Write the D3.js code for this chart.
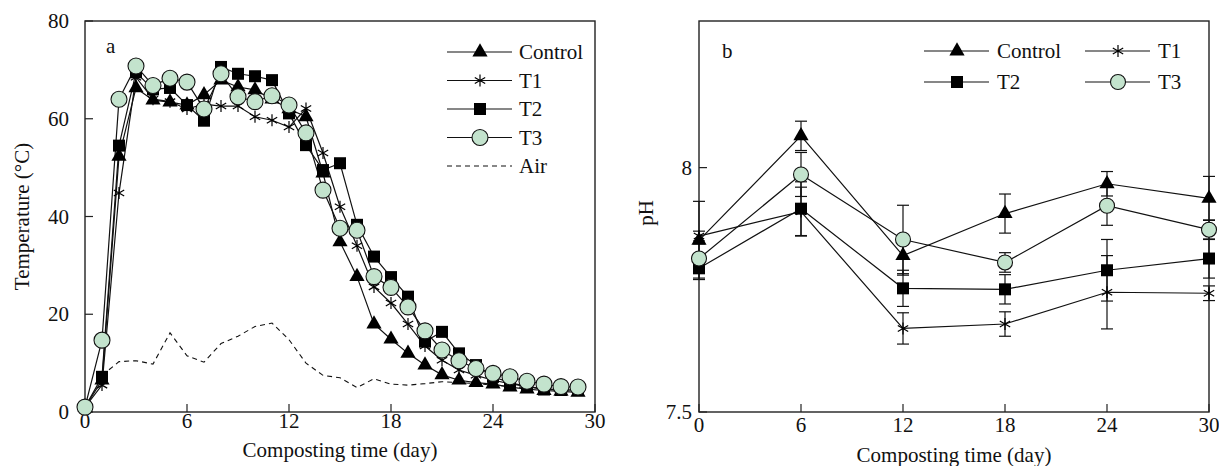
<!DOCTYPE html>
<html>
<head>
<meta charset="utf-8">
<script src="https://cdn.jsdelivr.net/npm/d3@7"></script>
<style>
  body { margin: 0; background: #fff; }
  svg text { font-family: "Liberation Serif", "Times New Roman", serif; fill: #111; }
</style>
</head>
<body>
<div id="chart"></div>
<script>
// panel a: temperature
const daysA = [0,1,2,3,4,5,6,7,8,9,10,11,12,13,14,15,16,17,18,19,20,21,22,23,24,25,26,27,28,29];
const tempControl = [1,6.5,52.3,66.3,63.8,63.4,62.8,64.9,67.9,66.5,65.9,64,62,60.4,48.9,34.8,27.7,18,14.9,12,9.6,7.6,6.5,6,5.7,5.1,4.7,4.4,4.2,4];
const tempT1 = [1,5.5,44.8,68.5,64,63.5,62,63,62.6,62.6,60.4,59.7,58.3,62.1,53,42,34,25.6,22.3,18,13.5,10.6,8.6,7.5,6.5,5.8,5.2,4.8,4.5,4.5];
const tempT2 = [1,7.2,54.5,69.5,66,66.3,62.8,59.6,70.6,69.2,68.7,67.9,61.1,54.6,49.5,50.9,38.3,31.8,27.6,23.6,14.4,16.4,12,9.6,7.2,6,5.2,4.6,4.5,4.5];
const tempT3 = [1,14.7,64,70.8,66.8,68.3,67.5,62,69.2,64.5,63.5,64.7,62.8,57.1,45.4,37.6,37.2,27.7,25.5,21.5,16.6,12.7,10.5,8.9,7.9,7.2,6.3,5.7,5.2,5.1];
const airDays = [1,2,3,4,5,6,7,8,9,10,11,12,13,14,15,16,17,18,19,20,21,22,23,24,25,26,27,28,29];
const tempAir = [7.5,10.3,10.5,9.8,16.2,11.5,10.2,14,15.5,17.5,18.2,14.8,10,7.5,7,5,6.8,5.7,5.5,5.8,6.2,6,5.8,5.5,5.2,5,4.8,4.6,4.5];

// panel b: pH
const daysB = [0,6,12,18,24,30];
const phControl = [7.851,8.065,7.82,7.906,7.967,7.937];
const phControlErr = [0.08,0.03,0.04,0.04,0.025,0.045];
const phT1 = [7.86,7.91,7.671,7.68,7.745,7.743];
const phT1Err = [0.01,0.05,0.032,0.025,0.075,0.015];
const phT2 = [7.794,7.916,7.753,7.751,7.79,7.814];
const phT2Err = [0.02,0.055,0.037,0.03,0.063,0.04];
const phT3 = [7.814,7.986,7.853,7.806,7.922,7.873];
const phT3Err = [0.03,0.045,0.07,0.02,0.04,0.02];

const xTicks = [0,6,12,18,24,30];
const tempTicks = [0,20,40,60,80];
const phTicks = [7.5,8];

const W = 1219, H = 466;
const green = "#c3e3cd";
const fs = "21px";

const svg = d3.select("#chart").append("svg")
  .attr("width", W).attr("height", H)
  .attr("font-family", "Liberation Serif, Times New Roman, serif");

// marker drawing
function marker(g, type, x, y, r) {
  if (type == "tri") {
    g.append("path").attr("d", d3.symbol(d3.symbolTriangle, 100)())
      .attr("transform", `translate(${x},${y})`).attr("fill", "#000");
  } else if (type == "sq") {
    g.append("path").attr("d", d3.symbol(d3.symbolSquare, 144)())
      .attr("transform", `translate(${x},${y})`).attr("fill", "#000");
  } else if (type == "circ") {
    g.append("circle").attr("cx", x).attr("cy", y).attr("r", r || 8)
      .attr("fill", green).attr("stroke", "#111").attr("stroke-width", 1.1);
  } else if (type == "star") {
    const p = d3.path(), a = 6, u = a * Math.cos(Math.PI / 6), t = a / 2;
    p.moveTo(0, -a); p.lineTo(0, a);
    p.moveTo(-u, -t); p.lineTo(u, t);
    p.moveTo(-u, t); p.lineTo(u, -t);
    g.append("path").attr("d", p.toString())
      .attr("transform", `translate(${x},${y})`)
      .attr("stroke", "#000").attr("stroke-width", 1.2).attr("fill", "none");
  }
}

function frame(x, y, xTitle, yTickVals, labelGap, tickY, titleY) {
  const g = svg.append("g");
  const [x0, x1] = x.range(), [y0, y1] = y.range();
  g.append("rect").attr("x", x0).attr("y", y1).attr("width", x1 - x0).attr("height", y0 - y1)
    .attr("fill", "none").attr("stroke", "#222").attr("stroke-width", 1.4);
  // x ticks inward
  g.selectAll(".xt").data(xTicks).join("line")
    .attr("x1", d => x(d)).attr("x2", d => x(d))
    .attr("y1", y0).attr("y2", y0 - 8)
    .attr("stroke", "#222").attr("stroke-width", 1.2);
  g.selectAll(".xl").data(xTicks).join("text")
    .attr("x", d => x(d)).attr("y", tickY)
    .attr("text-anchor", "middle").style("font-size", fs)
    .text(d => d);
  // y ticks inward
  g.selectAll(".yt").data(yTickVals).join("line")
    .attr("x1", x0).attr("x2", x0 + 8)
    .attr("y1", d => y(d)).attr("y2", d => y(d))
    .attr("stroke", "#222").attr("stroke-width", 1.2);
  g.selectAll(".yl").data(yTickVals).join("text")
    .attr("x", x0 - labelGap).attr("y", d => y(d) + 7)
    .attr("text-anchor", "end").style("font-size", fs)
    .text(d => d);
  g.append("text").attr("x", (x0 + x1) / 2).attr("y", titleY)
    .attr("text-anchor", "middle").style("font-size", fs).text(xTitle);
  return g;
}

// ---------------- panel a ----------------
const xa = d3.scaleLinear().domain([0, 30]).range([85, 595]);
const ya = d3.scaleLinear().domain([0, 80]).range([412, 21]);
frame(xa, ya, "Composting time (day)", tempTicks, 16, 428, 457);

svg.append("text")
  .attr("transform", `translate(29,${(412 + 21) / 2}) rotate(-90)`)
  .attr("text-anchor", "middle").style("font-size", fs)
  .text("Temperature (°C)");
svg.append("text").attr("x", 106).attr("y", 53).style("font-size", fs).text("a");

const lineA = d3.line().x(d => xa(d[0])).y(d => ya(d[1]));
const ga = svg.append("g");
ga.append("path").datum(airDays.map((d, i) => [d, tempAir[i]]))
  .attr("d", lineA).attr("fill", "none").attr("stroke", "#111")
  .attr("stroke-width", 1.1).attr("stroke-dasharray", "5,4");

const seriesA = [
  {name: "Control", vals: tempControl, m: "tri"},
  {name: "T1", vals: tempT1, m: "star"},
  {name: "T2", vals: tempT2, m: "sq"},
  {name: "T3", vals: tempT3, m: "circ"}
];
seriesA.forEach(function(s) {
  ga.append("path").datum(daysA.map((d, i) => [d, s.vals[i]]))
    .attr("d", lineA).attr("fill", "none").attr("stroke", "#111").attr("stroke-width", 1.2);
});
seriesA.forEach(function(s) {
  daysA.forEach((d, i) => marker(ga, s.m, xa(d), ya(s.vals[i]), 8));
});

// legend a
const legA = svg.append("g");
seriesA.concat([{name: "Air", m: "dash"}]).forEach(function(s, i) {
  const yy = 52 + i * 28.5;
  legA.append("line").attr("x1", 447).attr("x2", 512).attr("y1", yy).attr("y2", yy)
    .attr("stroke", "#111").attr("stroke-width", 1.2)
    .attr("stroke-dasharray", s.m == "dash" ? "5,4" : null);
  if (s.m != "dash") marker(legA, s.m, 480, yy, 8);
  legA.append("text").attr("x", 519).attr("y", yy + 7).style("font-size", fs).text(s.name);
});

// ---------------- panel b ----------------
const xb = d3.scaleLinear().domain([0, 30]).range([699, 1209]);
const yb = d3.scaleLinear().domain([7.5, 8.3]).range([412, 21]);
frame(xb, yb, "Composting time (day)", phTicks, 7, 432, 462);

svg.append("text")
  .attr("transform", `translate(653,213) rotate(-90)`)
  .attr("text-anchor", "middle").style("font-size", fs).text("pH");
svg.append("text").attr("x", 722).attr("y", 58).style("font-size", fs).text("b");

const seriesB = [
  {name: "Control", vals: phControl, err: phControlErr, m: "tri"},
  {name: "T1", vals: phT1, err: phT1Err, m: "star"},
  {name: "T2", vals: phT2, err: phT2Err, m: "sq"},
  {name: "T3", vals: phT3, err: phT3Err, m: "circ"}
];
const lineB = d3.line().x(d => xb(d[0])).y(d => yb(d[1]));
const gb = svg.append("g");
seriesB.forEach(function(s) {
  daysB.forEach(function(d, i) {
    const lo = yb(s.vals[i] - s.err[i]), hi = yb(s.vals[i] + s.err[i]), cx = xb(d);
    gb.append("line").attr("x1", cx).attr("x2", cx).attr("y1", lo).attr("y2", hi)
      .attr("stroke", "#111").attr("stroke-width", 1.2);
    [lo, hi].forEach(v => gb.append("line").attr("x1", cx - 6).attr("x2", cx + 6)
      .attr("y1", v).attr("y2", v).attr("stroke", "#111").attr("stroke-width", 1.2));
  });
});
seriesB.forEach(function(s) {
  gb.append("path").datum(daysB.map((d, i) => [d, s.vals[i]]))
    .attr("d", lineB).attr("fill", "none").attr("stroke", "#111").attr("stroke-width", 1.2);
});
seriesB.forEach(function(s) {
  daysB.forEach((d, i) => marker(gb, s.m, xb(d), yb(s.vals[i]), 7.5));
});

// legend b (two columns)
const legB = svg.append("g");
const legPos = [[924, 51], [1085, 51], [924, 82], [1085, 82]];
seriesB.forEach(function(s, i) {
  const [lx, yy] = legPos[i];
  legB.append("line").attr("x1", lx).attr("x2", lx + 65).attr("y1", yy).attr("y2", yy)
    .attr("stroke", "#111").attr("stroke-width", 1.2);
  marker(legB, s.m, lx + 33, yy, 7.5);
  legB.append("text").attr("x", lx + 73).attr("y", yy + 7).style("font-size", fs).text(s.name);
});
</script>
</body>
</html>
